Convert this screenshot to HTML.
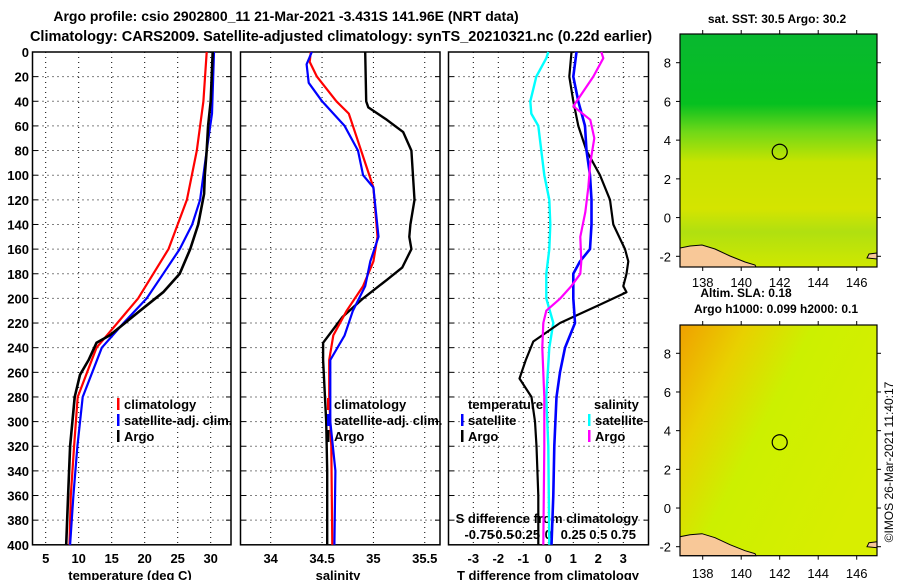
<!DOCTYPE html>
<html><head><meta charset="utf-8">
<style>
html,body{margin:0;padding:0;background:#fff;}
svg{display:block;font-family:"Liberation Sans",sans-serif;font-weight:bold;}
</style></head>
<body>
<svg id="chart" width="900" height="580" viewBox="0 0 900 580" xmlns="http://www.w3.org/2000/svg">
<defs>
<linearGradient id="g1" x1="0" y1="0" x2="0" y2="1">
<stop offset="0" stop-color="#08b830"/><stop offset="0.3" stop-color="#06c020"/><stop offset="0.42" stop-color="#70d818"/><stop offset="0.55" stop-color="#c8e400"/><stop offset="0.75" stop-color="#d4e400"/><stop offset="0.85" stop-color="#b0e010"/><stop offset="1" stop-color="#d0e800"/>
</linearGradient>
<linearGradient id="g2" x1="0" y1="0" x2="1" y2="0.6">
<stop offset="0" stop-color="#f0a000"/><stop offset="0.25" stop-color="#e8d000"/><stop offset="0.5" stop-color="#ccf000"/><stop offset="1" stop-color="#d8ee00"/>
</linearGradient>
</defs>
<g>
<text x="286" y="21" text-anchor="middle" font-size="14">Argo profile: csio 2902800_11 21-Mar-2021 -3.431S 141.96E (NRT data)</text>
<text x="341" y="41" text-anchor="middle" font-size="14.5">Climatology: CARS2009. Satellite-adjusted climatology: synTS_20210321.nc (0.22d earlier)</text>
</g>
<g id="plots"></g>
<g id="maps"></g>
<text x="893" y="462" font-size="12" font-weight="normal" text-anchor="middle" transform="rotate(-90 893 462)">©IMOS 26-Mar-2021 11:40:17</text>
</svg>
<script>
// ---- data ----
const depthTicks = [0,20,40,60,80,100,120,140,160,180,200,220,240,260,280,300,320,340,360,380,400];
const tempTicks = [5,10,15,20,25,30];
const salTicks = [34,34.5,35,35.5];
const tdiffTicks = [-3,-2,-1,0,1,2,3];
const sdiffLabels = ["-0.75","-0.5","-0.25","0","0.25","0.5","0.75"];
const sdiffTicks = [-0.75,-0.5,-0.25,0,0.25,0.5,0.75];

const climTDepth = [0,40,80,120,160,200,240,280,320,360,400];
const climT      = [29.4,28.9,27.9,26.4,23.6,19.0,12.7,9.85,9.3,8.8,8.6];
const satTDepth  = [0,50,80,120,140,160,180,200,220,240,280,320,360,400];
const satT       = [30.5,30.2,29.4,28.4,27.2,25.3,22.8,20.3,16.8,13.5,10.6,9.8,9.2,8.7];
const argoTDepth = [0,40,60,80,100,115,140,160,180,195,210,230,236,250,262,280,320,360,400];
const argoT      = [30.3,30.0,29.6,29.4,29.1,29.0,28.1,26.9,25.3,22.8,19.3,14.7,12.7,11.5,10.2,9.4,8.7,8.4,8.1];

const climSDepth = [0,8,20,40,50,70,90,110,150,170,190,210,230,250,280,320,400];
const climS      = [34.39,34.38,34.45,34.64,34.76,34.84,34.92,35.0,35.04,35.0,34.90,34.74,34.61,34.57,34.57,34.59,34.6];
const satSDepth  = [0,10,25,40,60,80,100,110,150,170,190,210,230,250,300,340,400];
const satS       = [34.4,34.35,34.37,34.5,34.72,34.85,34.9,35.0,35.05,34.97,34.92,34.8,34.72,34.58,34.58,34.63,34.62];
const argoSDepth = [0,40,45,55,65,80,120,140,150,160,175,185,200,215,236,250,300,340,400];
const argoS      = [34.92,34.93,34.95,35.13,35.29,35.37,35.4,35.36,35.35,35.37,35.28,35.13,34.9,34.7,34.51,34.51,34.54,34.55,34.55];

const satTdDepth = [0,20,40,60,80,100,120,140,160,170,180,200,220,240,260,280,320,360,400];
const satTd      = [1.13,1.0,1.2,1.47,1.53,1.67,1.73,1.73,1.67,1.27,1.0,1.0,1.07,0.67,0.47,0.33,0.24,0.2,0.13];
const argoTdDepth= [0,20,40,60,80,100,120,140,160,170,180,190,195,205,215,220,235,250,265,280,300,320,360,400];
const argoTd     = [0.93,0.84,1.0,1.2,1.53,2.07,2.47,2.6,3.07,3.2,3.13,3.0,3.13,2.07,1.0,0.47,-0.6,-0.9,-1.15,-0.67,-0.53,-0.47,-0.4,-0.4];
const satSdDepth = [0,5,20,40,50,60,80,100,120,140,160,180,200,220,240,280,320,400];
const satSd      = [0.0,-0.02,-0.12,-0.18,-0.17,-0.10,-0.07,-0.04,0.01,0.02,0.01,-0.02,-0.02,0.05,0.01,-0.02,0.0,0.01];
const argoSdDepth= [0,5,20,44,55,70,90,110,130,150,170,180,190,200,210,220,240,280,320,400];
const argoSd     = [0.53,0.55,0.45,0.25,0.42,0.46,0.42,0.40,0.37,0.32,0.33,0.32,0.23,0.12,-0.02,-0.05,-0.06,-0.04,-0.04,-0.05];

const lonTicks = [138,140,142,144,146];
const latTicks = [-2,0,2,4,6,8];
const argoLon = 142.0, argoLat = 3.4;

// ---- axes ----
const NS="http://www.w3.org/2000/svg";
const yD = d => 52 + d*1.232;
const xT = t => 45.7 + (t-5)*6.6;
const xS = s => 270.7 + (s-34)*102.7;
const xTd = v => 548.3 + v*25;
const xSd = v => 548.3 + v*100;
const P = [{l:32.5,r:231},{l:240.5,r:440},{l:448.5,r:648.5}];
const plots=document.getElementById('plots');
function mk(tag,attrs,parent){const e=document.createElementNS(NS,tag);for(const k in attrs)e.setAttribute(k,attrs[k]);(parent||plots).appendChild(e);return e;}
function txt(s,x,y,attrs,parent){const e=mk('text',Object.assign({x:x,y:y},attrs||{}),parent);e.textContent=s;return e;}

P.forEach((p,i)=>{
  const g=mk('g',{});
  
  
  depthTicks.forEach(d=>{
    if(d===0||d===400)return;
    const l=mk('line',{x1:p.l,x2:p.r,y1:yD(d),y2:yD(d),stroke:'#000','stroke-width':1,'stroke-dasharray':'1 4'},g);
    
    
    mk('line',{x1:p.l,x2:p.l+5,y1:yD(d),y2:yD(d),stroke:'#000'},g);
    mk('line',{x1:p.r-5,x2:p.r,y1:yD(d),y2:yD(d),stroke:'#000'},g);
  });
  const xs = i===0? tempTicks.map(xT) : i===1? salTicks.map(xS) : tdiffTicks.map(xTd);
  xs.forEach(x=>{
    const l=mk('line',{x1:x,x2:x,y1:yD(0),y2:yD(400),stroke:'#000','stroke-width':1,'stroke-dasharray':'1 4'},g);
    
    
  });
  const f=mk('rect',{x:p.l,y:yD(0),width:p.r-p.l,height:yD(400)-yD(0),fill:'none',stroke:'#000','stroke-width':1.5},g);
  
  
});

depthTicks.forEach(d=>{
  const t=txt(String(d),29,yD(d)+5,{'font-size':13,'text-anchor':'end'});
  
  
});
tempTicks.forEach(v=>{const t=txt(String(v),xT(v),563,{'font-size':13,'text-anchor':'middle'});
  });
salTicks.forEach(v=>{const t=txt(String(v),xS(v),563,{'font-size':13,'text-anchor':'middle'});
  });
tdiffTicks.forEach(v=>{const t=txt(String(v),xTd(v),563,{'font-size':13,'text-anchor':'middle'});
  });
let a=txt('temperature (deg C)',130,580,{'font-size':13,'text-anchor':'middle'});

a=txt('salinity',338,580,{'font-size':13,'text-anchor':'middle'});

a=txt('T difference from climatology',548,580,{'font-size':13,'text-anchor':'middle'});

a=txt('S difference  from climatology',547,523,{'font-size':13,'text-anchor':'middle'});

sdiffTicks.forEach((v,i)=>{const t=txt(sdiffLabels[i],xSd(v)+(i<3?(i-3)*-2:0),539,{'font-size':13,'text-anchor':'middle'});
  });

function series(depths,vals,xf,color,w,name){
  const pts=depths.map((d,i)=>xf(vals[i]).toFixed(1)+','+yD(d).toFixed(1)).join(' ');
  const pl=mk('polyline',{points:pts,fill:'none',stroke:color,'stroke-width':w,'stroke-linejoin':'round'});
  
  
}
series(climTDepth,climT,xT,'#ff0000',2.2,'climatology-temperature-line');
series(satTDepth,satT,xT,'#0000ff',2.2,'satellite-temperature-line');
series(argoTDepth,argoT,xT,'#000',2.6,'argo-temperature-line');
series(argoSDepth,argoS,xS,'#000',2.4,'argo-salinity-line');
series(climSDepth,climS,xS,'#ff0000',2.2,'climatology-salinity-line');
series(satSDepth,satS,xS,'#0000ff',2.2,'satellite-salinity-line');
series(satSdDepth,satSd,xSd,'#00ffff',2.4,'satellite-sdiff-line');
series(argoTdDepth,argoTd,xTd,'#000',2.2,'argo-tdiff-line');
series(satTdDepth,satTd,xTd,'#0000ff',2.6,'satellite-tdiff-line');
series(argoSdDepth,argoSd,xSd,'#ff00ff',2.2,'argo-sdiff-line');

function legend(x,y,color,label,name){
  const g=mk('g',{});
  
  
  mk('rect',{x:x-1,y:y-11,width:2.5,height:12,fill:color},g);
  txt(label,x+6,y,{'font-size':13},g);
}
legend(118,409,'#ff0000','climatology','legend-climatology');
legend(118,425,'#0000ff','satellite-adj. clim.','legend-satellite-adj');
legend(118,441,'#000','Argo','legend-argo');
legend(328,409,'#ff0000','climatology','legend-sal-climatology');
legend(328,425,'#0000ff','satellite-adj. clim.','legend-sal-satellite-adj');
legend(328,441,'#000','Argo','legend-sal-argo');
a=txt('temperature',468,409,{'font-size':13});

a=txt('salinity',594,409,{'font-size':13});

legend(462,425,'#0000ff','satellite','legend-tdiff-satellite');
legend(462,441,'#000','Argo','legend-tdiff-argo');
legend(589,425,'#00ffff','satellite','legend-sdiff-satellite');
legend(589,441,'#ff00ff','Argo','legend-sdiff-argo');

// ---- maps ----
const maps=document.getElementById('maps');
function map(top,bottom,lat8y,latm2y,fill,name,lonLabelY){
  const L=680,R=877;
  const xL=lon=>702.7+(lon-138)*19.25;
  const yL=lat=>lat8y+(8-lat)*(latm2y-lat8y)/10;
  const g=mk('g',{},maps);
  
  
  mk('rect',{x:L,y:top,width:R-L,height:bottom-top,fill:fill},g);
  const b=bottom;
  const land=mk('polygon',{points:`${L},${b} ${L},${b-19} ${L+10},${b-21} ${L+22},${b-22} ${L+35},${b-18} ${L+50},${b-11} ${L+65},${b-5} ${L+75},${b-2} ${L+76},${b}`,fill:'#f8c898',stroke:'#000','stroke-width':1},g);
  
  
  const land2=mk('polygon',{points:`${R},${b-14} ${R-8},${b-13} ${R-10},${b-9} ${R},${b-8}`,fill:'#f8c898',stroke:'#000','stroke-width':1},g);
  
  
  const c=mk('circle',{cx:xL(argoLon),cy:yL(argoLat),r:7.5,fill:'none',stroke:'#000','stroke-width':1.2},g);
  
  
  mk('rect',{x:L,y:top,width:R-L,height:bottom-top,fill:'none',stroke:'#000','stroke-width':1.2},g);
  lonTicks.forEach(v=>{
    mk('line',{x1:xL(v),x2:xL(v),y1:top-4,y2:top,stroke:'#000'},g);
    mk('line',{x1:xL(v),x2:xL(v),y1:bottom,y2:bottom+4,stroke:'#000'},g);
    const t=txt(String(v),xL(v),lonLabelY,{'font-size':13,'font-weight':'normal','text-anchor':'middle'},g);
    
  });
  latTicks.forEach(v=>{
    mk('line',{x1:L-4,x2:L,y1:yL(v),y2:yL(v),stroke:'#000'},g);
    mk('line',{x1:R,x2:R+4,y1:yL(v),y2:yL(v),stroke:'#000'},g);
    const t=txt(String(v),671,yL(v)+5,{'font-size':13,'font-weight':'normal','text-anchor':'end'},g);
    
  });
}
map(34,267,62.7,256.3,'url(#g1)','sst-map',287);
map(325,555.7,353.3,546.7,'url(#g2)','sla-map',578);
a=txt('sat. SST: 30.5 Argo: 30.2',777,23,{'font-size':12,'text-anchor':'middle'},maps);

a=txt('Altim. SLA: 0.18',746,297,{'font-size':12,'text-anchor':'middle'},maps);

a=txt('Argo h1000: 0.099 h2000: 0.1',776,313,{'font-size':12,'text-anchor':'middle'},maps);

</script>
</body></html>
